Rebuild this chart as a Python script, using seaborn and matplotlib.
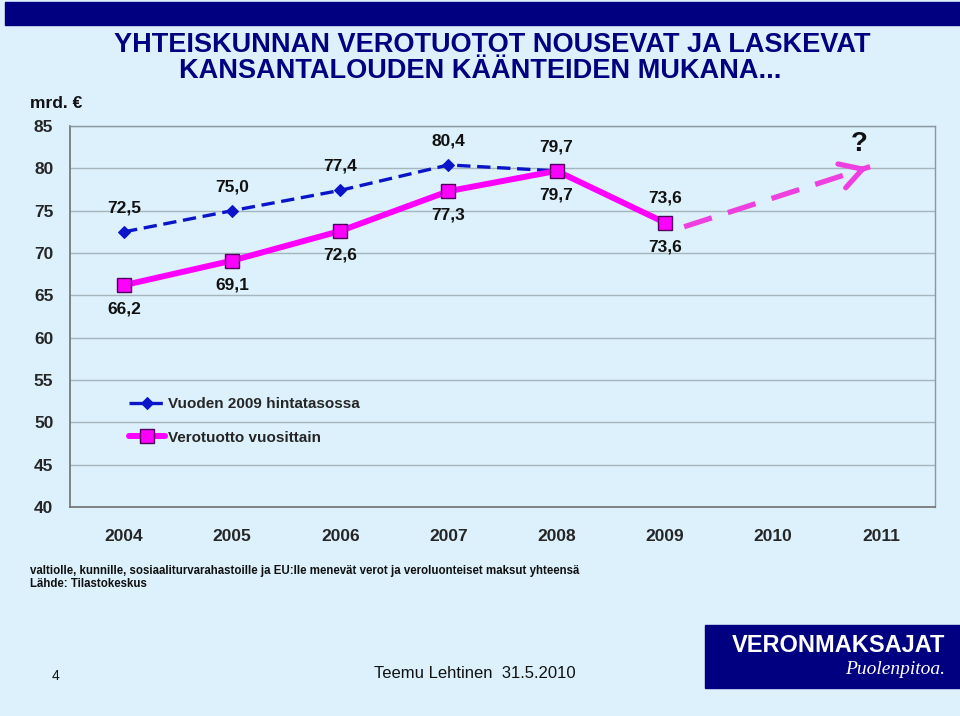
import numpy as np
import pandas as pd
import seaborn as sns
import matplotlib.pyplot as plt

# data
years = ['2004', '2005', '2006', '2007', '2008', '2009', '2010', '2011']
real_2009 = [72.5, 75.0, 77.4, 80.4, 79.7, 73.6]      # Vuoden 2009 hintatasossa
nominal = [66.2, 69.1, 72.6, 77.3, 79.7, 73.6]        # Verotuotto vuosittain
real_labels = ['72,5', '75,0', '77,4', '80,4', '79,7', '73,6']
nominal_labels = ['66,2', '69,1', '72,6', '77,3', '79,7', '73,6']
y_ticks = [40, 45, 50, 55, 60, 65, 70, 75, 80, 85]
# guessed trend arrow (2009 -> 2011)
trend_x = [5.18, 6.9]
trend_y = [73.1, 80.2]

bg = '#dcf1fc'
navy = '#000080'
blue = '#0a14c8'
magenta = '#ff00ff'
arrow_col = '#ee3fe0'

sns.set_theme(style='white')
plt.rcParams['font.family'] = ['Liberation Sans', 'DejaVu Sans']

fig = plt.figure(figsize=(9.6, 7.16), dpi=100)
fig.patch.set_facecolor(bg)
ax = fig.add_axes([70 / 960, 1 - 507 / 716, 865 / 960, 381 / 716])
ax.set_facecolor(bg)

df = pd.DataFrame({'x': np.arange(len(real_2009)), 'real': real_2009, 'nom': nominal})

sns.lineplot(data=df, x='x', y='real', ax=ax, color=blue, lw=2.4,
             linestyle=(0, (4, 2)), marker='D', markersize=6,
             markeredgecolor=blue, label='Vuoden 2009 hintatasossa', zorder=3)
sns.lineplot(data=df, x='x', y='nom', ax=ax, color=magenta, lw=4.3,
             marker='s', markersize=10, markeredgecolor='#50005a', markeredgewidth=1,
             label='Verotuotto vuosittain', zorder=4)

# data labels
for i, (v, t) in enumerate(zip(real_2009, real_labels)):
    ax.annotate(t, (i, v), xytext=(0, 12), textcoords='offset points', ha='center',
                va='bottom', fontsize=12.5, fontweight='bold', color='#111111')
for i, (v, t) in enumerate(zip(nominal, nominal_labels)):
    ax.annotate(t, (i, v), xytext=(0, -12), textcoords='offset points', ha='center',
                va='top', fontsize=12.5, fontweight='bold', color='#111111')

# dashed trend arrow with question mark
ax.plot(trend_x, trend_y, color=arrow_col, lw=3.8, linestyle=(0, (5.5, 3.2)),
        solid_capstyle='butt', zorder=3)
ax.annotate('', xy=(trend_x[1], trend_y[1]), xytext=(trend_x[1] - 0.12, trend_y[1] - 0.5),
            arrowprops=dict(arrowstyle='->,head_length=1.3,head_width=0.75',
                            color=arrow_col, lw=3.8), zorder=3)
ax.text(6.8, 81.3, '?', ha='center', va='bottom', fontsize=20, fontweight='bold',
        color='#111111')

# axes
ax.set_xlim(-0.5, 7.5)
ax.set_ylim(40, 85)
ax.set_yticks(y_ticks)
ax.set_yticklabels([str(t) for t in y_ticks], fontsize=12.5, fontweight='bold')
ax.set_xticks(np.arange(-0.5, 8, 1))
ax.set_xticklabels([])
ax.set_xticks(np.arange(8), minor=True)
ax.set_xticklabels(years, minor=True, fontsize=12.5, fontweight='bold')
ax.tick_params(axis='x', which='minor', length=0, pad=16)
ax.tick_params(axis='x', which='major', length=6, width=1, color='#707070', direction='out')
ax.tick_params(axis='y', length=6, width=1, color='#707070', direction='out', pad=6)
ax.grid(axis='y', color='#a6b4be', lw=1)
ax.set_xlabel('')
ax.set_ylabel('')
for s in ['left', 'bottom']:
    ax.spines[s].set_color('#707070')
    ax.spines[s].set_linewidth(1.2)
for s in ['top', 'right']:
    ax.spines[s].set_color('#8c98a0')
    ax.spines[s].set_linewidth(1)

leg = ax.legend(loc='upper left', bbox_to_anchor=(0.052, 0.325), frameon=False,
                handlelength=2.4, labelspacing=1.3, handletextpad=0.15,
                prop={'size': 11, 'weight': 'bold'})

# slide decorations
fig.patches.append(plt.Rectangle((5 / 960, 1 - 25 / 716), 955 / 960, 23 / 716,
                                 transform=fig.transFigure, color=navy, zorder=0))
fig.text(0.513, 1 - 45 / 716, 'YHTEISKUNNAN VEROTUOTOT NOUSEVAT JA LASKEVAT',
         ha='center', va='center', fontsize=19.5, fontweight='bold', color=navy)
fig.text(0.5, 1 - 71 / 716, 'KANSANTALOUDEN KÄÄNTEIDEN MUKANA...',
         ha='center', va='center', fontsize=19.5, fontweight='bold', color=navy)
fig.text(30 / 960, 1 - 104 / 716, 'mrd. €', ha='left', va='center', fontsize=12.5,
         fontweight='bold', color='#111111')
fig.text(30 / 960, 1 - 571 / 716,
         'valtiolle, kunnille, sosiaaliturvarahastoille ja EU:lle menevät verot ja veroluonteiset maksut yhteensä',
         ha='left', va='center', fontsize=8.3, fontweight='bold', color='#111111')
fig.text(30 / 960, 1 - 584 / 716, 'Lähde: Tilastokeskus', ha='left', va='center',
         fontsize=8.3, fontweight='bold', color='#111111')
fig.text(52 / 960, 1 - 676 / 716, '4', ha='left', va='center', fontsize=10, color='#111111')
fig.text(475 / 960, 1 - 673 / 716, 'Teemu Lehtinen  31.5.2010', ha='center', va='center',
         fontsize=12, color='#111111')
fig.patches.append(plt.Rectangle((705 / 960, 1 - 688 / 716), 255 / 960, 63 / 716,
                                 transform=fig.transFigure, color=navy, zorder=0))
fig.text(945 / 960, 1 - 646 / 716, 'VERONMAKSAJAT', ha='right', va='center',
         fontsize=17, fontweight='bold', color='white')
fig.text(945 / 960, 1 - 669 / 716, 'Puolenpitoa.', ha='right', va='center',
         fontsize=14, style='italic', family='Liberation Serif', color='white')

fig.savefig('out.png', dpi=100, facecolor=bg)
